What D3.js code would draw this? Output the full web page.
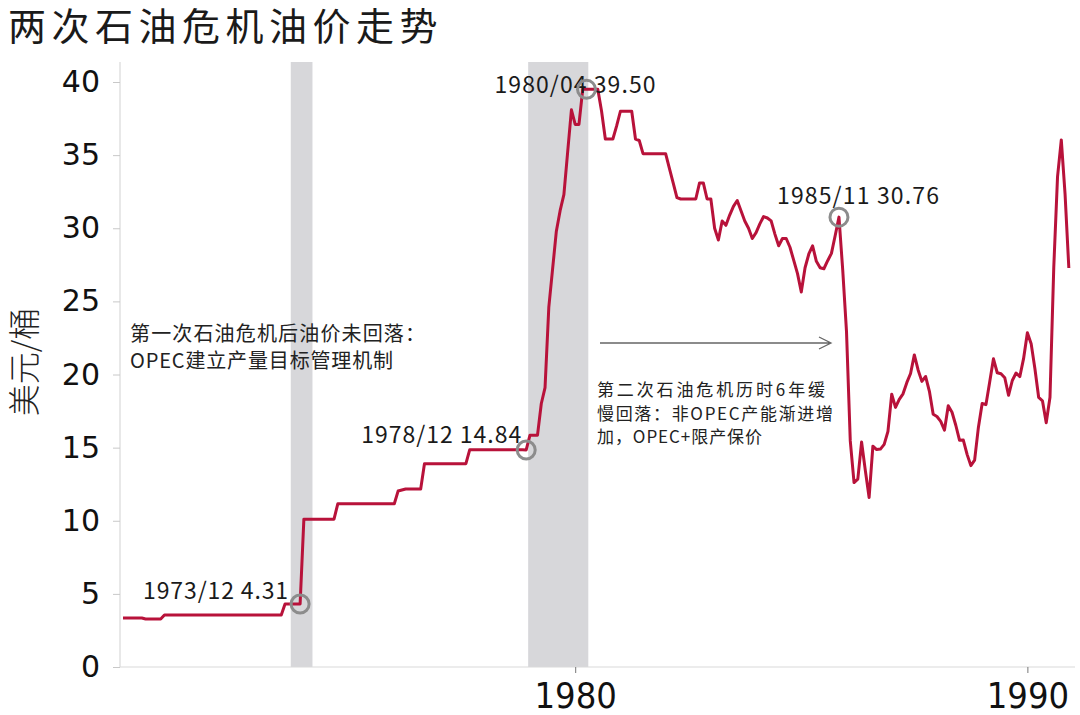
<!DOCTYPE html>
<html lang="zh">
<head>
<meta charset="UTF-8">
<title>两次石油危机油价走势</title>
<script src="https://d3js.org/d3.v7.min.js"></script>
<style>
  * { margin: 0; padding: 0; box-sizing: border-box; }
  body { background: #fff; width: 1080px; height: 715px; overflow: hidden; }
  svg { display: block; }
  .cjk { font-family: "Noto Sans CJK SC", sans-serif; }
</style>
</head>
<body>
<svg id="chart" width="1080" height="715"></svg>
<script>
// monthly price, USD/barrel, from 1970/01
const startYear = 1970;
const price = [
  3.35, 3.35, 3.35, 3.35, 3.35, 3.35, 3.28, 3.28, 3.28, 3.28, 3.28, 3.56,          // 1970
  3.56, 3.56, 3.56, 3.56, 3.56, 3.56, 3.56, 3.56, 3.56, 3.56, 3.56, 3.56,          // 1971
  3.56, 3.56, 3.56, 3.56, 3.56, 3.56, 3.56, 3.56, 3.56, 3.56, 3.56, 3.56,          // 1972
  3.56, 3.56, 3.56, 3.56, 3.56, 3.56, 3.56, 4.31, 4.31, 4.31, 4.31, 4.31,          // 1973
  10.11, 10.11, 10.11, 10.11, 10.11, 10.11, 10.11, 10.11, 10.11, 11.16, 11.16, 11.16, // 1974
  11.16, 11.16, 11.16, 11.16, 11.16, 11.16, 11.16, 11.16, 11.16, 11.16, 11.16, 11.16, // 1975
  11.16, 12.03, 12.10, 12.17, 12.17, 12.17, 12.17, 12.17, 13.90, 13.90, 13.90, 13.90, // 1976
  13.90, 13.90, 13.90, 13.90, 13.90, 13.90, 13.90, 13.90, 14.85, 14.85, 14.85, 14.85, // 1977
  14.85, 14.85, 14.85, 14.85, 14.85, 14.85, 14.85, 14.85, 14.85, 14.85, 14.85, 14.84, // 1978
  15.85, 15.85, 15.85, 18.00, 19.10, 24.60, 27.20, 29.80, 31.20, 32.30, 35.20, 38.10, // 1979
  37.10, 37.10, 39.50, 39.50, 39.50, 39.50, 39.50, 38.00, 36.10, 36.10, 36.10, 37.00, // 1980
  38.00, 38.00, 38.00, 38.00, 36.10, 36.00, 35.10, 35.10, 35.10, 35.10, 35.10, 35.10, // 1981
  35.10, 34.10, 33.10, 32.10, 32.00, 32.00, 32.00, 32.00, 32.00, 33.10, 33.10, 32.00, // 1982
  32.00, 30.00, 29.20, 30.50, 30.20, 30.90, 31.50, 31.90, 31.20, 30.50, 30.00, 29.30, // 1983
  29.70, 30.30, 30.80, 30.70, 30.50, 29.60, 28.80, 29.30, 29.30, 28.70, 27.80, 26.90, // 1984
  25.64, 27.30, 28.24, 28.80, 27.74, 27.30, 27.23, 27.78, 28.28, 29.50, 30.76, 27.13, // 1985
  22.93, 15.46, 12.61, 12.84, 15.38, 13.43, 11.59, 15.10, 14.87, 14.90, 15.22, 16.11, // 1986
  18.65, 17.75, 18.30, 18.68, 19.44, 20.07, 21.34, 20.31, 19.53, 19.86, 18.85, 17.28, // 1987
  17.13, 16.80, 16.20, 17.86, 17.42, 16.53, 15.50, 15.52, 14.54, 13.77, 14.14, 16.38, // 1988
  18.02, 17.94, 19.48, 21.07, 20.12, 20.05, 19.78, 18.58, 19.59, 20.10, 19.86, 21.10, // 1989
  22.86, 22.11, 20.39, 18.43, 18.20, 16.70, 18.45, 27.31, 33.51, 36.04, 32.33, 27.28  // 1990
];

// crisis periods (decimal years)
const crisisBands = [[1973.71, 1974.19], [1978.96, 1980.29]];

const yTicks = [0, 5, 10, 15, 20, 25, 30, 35, 40];
const xTicks = [1980, 1990];

// highlighted months
const markMonths = ['1973/12', '1978/12', '1980/04', '1985/11'];

const title = '两次石油危机油价走势';
const yTitle = '美元/桶';
const note1 = ['第一次石油危机后油价未回落：', 'OPEC建立产量目标管理机制'];
const note2 = ['第二次石油危机历时6年缓', '慢回落：非OPEC产能渐进增', '加，OPEC+限产保价'];

// ---- drawing ----
const svg = d3.select('#chart');
const RED = '#b8123a';

const x = d3.scaleLinear().domain([1970, 1991]).range([123, 1072.6]);
const y = d3.scaleLinear().domain([0, 40]).range([667, 82]);
const plotL = 120, plotR = 1075, plotT = 62, plotB = y(0);

const series = price.map((v, i) => ({ t: startYear + i / 12, v }));

// title
svg.append('text').attr('class', 'cjk')
  .attr('x', 8).attr('y', 40)
  .attr('font-size', 38).attr('letter-spacing', 5.5).attr('fill', '#1a1a1a')
  .text(title);

// crisis bands
svg.append('g').selectAll('rect')
  .data(crisisBands).join('rect')
  .attr('x', d => x(d[0])).attr('width', d => x(d[1]) - x(d[0]))
  .attr('y', plotT).attr('height', plotB - plotT)
  .attr('fill', '#d7d7da');

// axes lines
svg.append('line').attr('x1', plotL).attr('x2', plotL).attr('y1', plotT).attr('y2', plotB)
  .attr('stroke', '#d9d9d9').attr('stroke-width', 1.2);
svg.append('line').attr('x1', plotL).attr('x2', plotR).attr('y1', plotB).attr('y2', plotB)
  .attr('stroke', '#d9d9d9').attr('stroke-width', 1.2);

// y axis
const yAxis = svg.append('g').attr('transform', `translate(${plotL},0)`)
  .call(d3.axisLeft(y).tickValues(yTicks).tickSize(7).tickPadding(13));
yAxis.select('.domain').remove();
yAxis.selectAll('.tick line').attr('stroke', '#c8c8c8');
yAxis.selectAll('.tick text')
  .attr('font-family', '"DejaVu Sans", sans-serif').attr('font-size', 30).attr('fill', '#111');

// x axis
const xAxis = svg.append('g').attr('transform', `translate(0,${plotB})`)
  .call(d3.axisBottom(x).tickValues(xTicks).tickFormat(d3.format('d')).tickSize(6).tickPadding(9));
xAxis.select('.domain').remove();
xAxis.selectAll('.tick line').attr('stroke', '#777');
xAxis.selectAll('.tick text')
  .attr('font-family', '"Liberation Sans Narrow", "DejaVu Sans Condensed", sans-serif')
  .attr('font-size', 36).attr('fill', '#111');

// y title
svg.append('text').attr('class', 'cjk')
  .attr('transform', 'translate(36,362) rotate(-90)')
  .attr('text-anchor', 'middle')
  .attr('font-size', 32).attr('font-weight', 300).attr('fill', '#222')
  .text(yTitle);

// price line
svg.append('path').datum(series)
  .attr('fill', 'none').attr('stroke', RED).attr('stroke-width', 3)
  .attr('stroke-linejoin', 'round')
  .attr('d', d3.line().x(d => x(d.t)).y(d => y(d.v)));

// highlight circles + labels
const marks = markMonths.map(m => {
  const [yr, mo] = m.split('/').map(Number);
  const i = (yr - startYear) * 12 + mo - 1;
  return { m, t: series[i].t, v: series[i].v };
});
const labelPos = [[-157, -5, 145], [-165, -7, 160], [-92, 4, 161], [-62, -13, 162]];

svg.append('g').selectAll('text')
  .data(marks).join('text').attr('class', 'cjk')
  .attr('x', (d, i) => x(d.t) + labelPos[i][0])
  .attr('y', (d, i) => y(d.v) + labelPos[i][1])
  .attr('textLength', (d, i) => labelPos[i][2])
  .attr('lengthAdjust', 'spacing')
  .attr('font-size', 23).attr('fill', '#1a1a1a')
  .text(d => `${d.m} ${d.v.toFixed(2)}`);

svg.append('g').selectAll('circle')
  .data(marks).join('circle')
  .attr('cx', d => x(d.t)).attr('cy', d => y(d.v)).attr('r', 9)
  .attr('fill', 'none').attr('stroke', '#8c8c8c').attr('stroke-width', 3);

// note 1
svg.append('g').selectAll('text')
  .data(note1).join('text').attr('class', 'cjk')
  .attr('x', 130).attr('y', (d, i) => 341 + i * 27)
  .attr('textLength', (d, i) => [295, 263][i]).attr('lengthAdjust', 'spacing')
  .attr('font-size', 20).attr('fill', '#222')
  .text(d => d);

// note 2 + arrow
svg.append('g').selectAll('text')
  .data(note2).join('text').attr('class', 'cjk')
  .attr('x', 597).attr('y', (d, i) => 396 + i * 23.5)
  .attr('textLength', (d, i) => [228, 236, 165][i]).attr('lengthAdjust', 'spacing')
  .attr('font-size', 17).attr('fill', '#222')
  .text(d => d);

const ay = 343, ax0 = 600, ax1 = 831;
svg.append('path')
  .attr('d', `M${ax0},${ay}H${ax1}M${ax1 - 12},${ay - 6}L${ax1},${ay}L${ax1 - 12},${ay + 6}`)
  .attr('fill', 'none').attr('stroke', '#666').attr('stroke-width', 1.3);
</script>
</body>
</html>
